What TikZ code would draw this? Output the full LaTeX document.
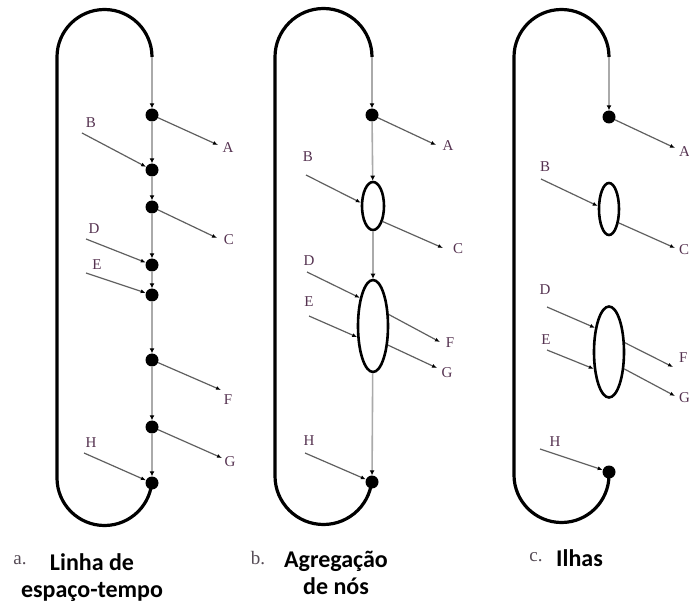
\documentclass[tikz,border=0pt]{standalone}
\usepackage{fontspec}
\setmainfont{Liberation Serif}
\newfontfamily\capfont{Carlito}
\usetikzlibrary{arrows.meta, shapes.geometric, positioning}
\definecolor{SP}{RGB}{170,170,170}
\definecolor{IO}{RGB}{95,95,95}
\definecolor{LT}{RGB}{85,50,80}
\definecolor{CG}{RGB}{85,75,85}

\begin{document}
\begin{tikzpicture}[x=1pt, y=-1pt,
  dot/.style={circle, fill=black, inner sep=0pt, minimum size=13pt},
  isl/.style={ellipse, draw=black, line width=2.6pt, inner sep=0pt},
  loopline/.style={line width=3.2pt, black},
  spine/.style={line width=1.6pt, draw=SP, -{Latex[length=5pt,width=5pt,black]}},
  io/.style={line width=1.2pt, draw=IO, -{Latex[length=5pt,width=4pt,black]}},
  lbl/.style={text=LT, font=\fontsize{15}{15}\selectfont, inner sep=0pt},
  tag/.style={text=CG, font=\fontsize{19}{19}\selectfont, inner sep=0pt, anchor=base},
  capt/.style={font=\capfont\bfseries\fontsize{24}{27}\selectfont, align=center, inner sep=0pt}
]
\useasboundingbox (0,0) rectangle (689,604);

% a. linha de espaco-tempo
\coordinate (aT) at (152,57);
\node[dot] (a1) at (152,115) {};
\node[dot] (a2) at (152,170) {};
\node[dot] (a3) at (152,207) {};
\node[dot] (a4) at (152,265) {};
\node[dot] (a5) at (152,295) {};
\node[dot] (a6) at (152,360) {};
\node[dot] (a7) at (152,427) {};
\node[dot] (a8) at (152,483) {};
\draw[loopline] (aT) arc (0:-180:47.5) -- (57,478) arc (180:0:47.5);
\draw[spine] (aT) -- (a1);
\draw[spine] (a1) -- (a2);
\draw[spine] (a2) -- (a3);
\draw[spine] (a3) -- (a4);
\draw[spine] (a4) -- (a5);
\draw[spine] (a5) -- (a6);
\draw[spine] (a6) -- (a7);
\draw[spine] (a7) -- (a8);

\coordinate (aBs) at (82,133);
\coordinate (aDs) at (86,239);
\coordinate (aEs) at (86,273);
\coordinate (aHs) at (84,453);
\coordinate (aAt) at (218,145);
\coordinate (aCt) at (217,238);
\coordinate (aFt) at (221,390);
\coordinate (aGt) at (222,458);
\draw[io] (aBs) -- (a2);
\draw[io] (aDs) -- (a4);
\draw[io] (aEs) -- (a5);
\draw[io] (aHs) -- (a8);
\draw[io] (a1) -- (aAt);
\draw[io] (a3) -- (aCt);
\draw[io] (a6) -- (aFt);
\draw[io] (a7) -- (aGt);
\node[lbl] (aB) at (91,123) {B};
\node[lbl] (aD) at (94,229) {D};
\node[lbl] (aE) at (97,265) {E};
\node[lbl] (aH) at (91,443) {H};
\node[lbl] (aA) at (228,148) {A};
\node[lbl] (aC) at (229,240) {C};
\node[lbl] (aF) at (228,400) {F};
\node[lbl] (aG) at (230,462) {G};

% b. agregacao de nos
\coordinate (bT) at (372,57);
\node[dot] (bA) at (372,115) {};
\node[isl, minimum width=22pt, minimum height=48pt] (bS) at (373,206) {};
\node[isl, minimum width=30pt, minimum height=92pt] (bL) at (373,326) {};
\node[dot] (bH) at (372,482) {};
\draw[loopline] (bT) arc (0:-180:48.5) -- (275,476) arc (180:0:48.5);
\draw[spine] (bT) -- (bA);
\draw[spine] (bA) -- (bS);
\draw[spine] (bS) -- (bL);
\draw[spine] (bL) -- (bH);

\coordinate (bBs) at (306,175);
\coordinate (bDs) at (307,272);
\coordinate (bEs) at (309,316);
\coordinate (bHs) at (305,453);
\coordinate (bAt) at (436,145);
\coordinate (bCt) at (443,248);
\coordinate (bFt) at (440,342);
\coordinate (bGt) at (437,368);
\draw[io] (bBs) -- (bS.165);
\draw[io] (bDs) -- (bL.115);
\draw[io] (bEs) -- (bL.215);
\draw[io] (bHs) -- (bH);
\draw[io] (bA) -- (bAt);
\draw[io] (bS.-58) -- (bCt);
\draw[io] (bL.36) -- (bFt);
\draw[io] (bL.-52) -- (bGt);
\node[lbl] (bB) at (308,157) {B};
\node[lbl] (bD) at (309,261) {D};
\node[lbl] (bE) at (309,302) {E};
\node[lbl] (bH2) at (309,441) {H};
\node[lbl] (bA2) at (448,146) {A};
\node[lbl] (bC) at (458,249) {C};
\node[lbl] (bF) at (450,343) {F};
\node[lbl] (bG) at (447,373) {G};

% c. ilhas
\coordinate (cT) at (609,57);
\node[dot] (cA) at (609,117) {};
\node[isl, minimum width=20pt, minimum height=52pt] (cS) at (609,209) {};
\node[isl, minimum width=30pt, minimum height=91pt] (cL) at (609,352) {};
\node[dot] (cH) at (609,472) {};
\draw[loopline] (cT) arc (0:-180:47.5) -- (514,475) arc (180:0:47.5);
\draw[spine] (cT) -- (cA);

\coordinate (cBs) at (541,179);
\coordinate (cDs) at (547,307);
\coordinate (cEs) at (547,350);
\coordinate (cHs) at (540,449);
\coordinate (cAt) at (675,148);
\coordinate (cCt) at (675,248);
\coordinate (cFt) at (673,367);
\coordinate (cGt) at (675,396);
\draw[io] (cBs) -- (cS.165);
\draw[io] (cDs) -- (cL.120);
\draw[io] (cEs) -- (cL.228);
\draw[io] (cHs) -- (cH);
\draw[io] (cA) -- (cAt);
\draw[io] (cS.-55) -- (cCt);
\draw[io] (cL.30) -- (cFt);
\draw[io] (cL.-48) -- (cGt);
\node[lbl] (cB) at (545,167) {B};
\node[lbl] (cD) at (545,290) {D};
\node[lbl] (cE) at (546,340) {E};
\node[lbl] (cH2) at (555,442) {H};
\node[lbl, anchor=west] (cA2) at (679,152) {A};
\node[lbl, anchor=west] (cC) at (679,250) {C};
\node[lbl, anchor=west] (cF) at (679,358) {F};
\node[lbl, anchor=west] (cG) at (679,398) {G};

% legendas
\node[tag] (ta) at (20,564) {a.};
\node[capt, anchor=north] (ca) at (92,553) {Linha de\\espaço-tempo};
\node[tag] (tb) at (258,564) {b.};
\node[capt, anchor=north] (cb) at (336,551) {Agregação\\de nós};
\node[tag] (tc) at (536,561) {c.};
\node[capt, anchor=base west] (cc) at (556,566) {Ilhas};
\end{tikzpicture}
\end{document}
